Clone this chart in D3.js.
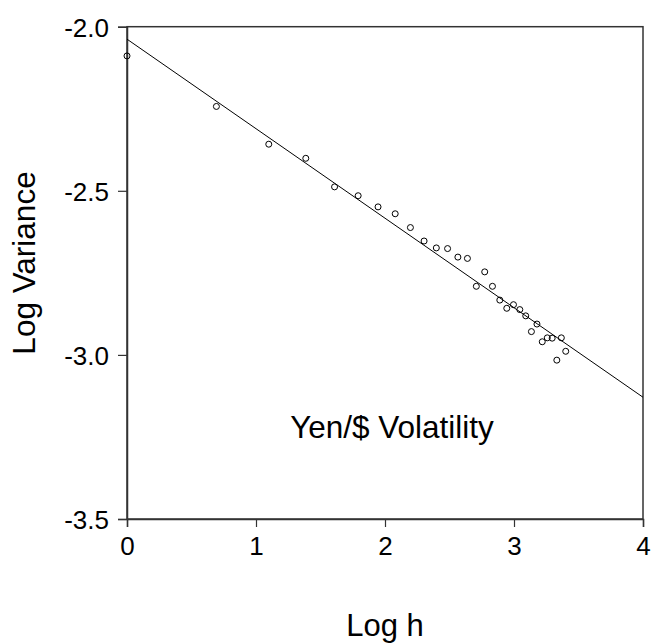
<!DOCTYPE html>
<html>
<head>
<meta charset="utf-8">
<script src="https://cdn.jsdelivr.net/npm/d3@7"></script>
<style>
  html, body { margin: 0; padding: 0; background: #fff; }
  svg { display: block; }
  text { font-family: "Liberation Sans", Arial, sans-serif; fill: #000; }
</style>
</head>
<body>
<svg id="chart" width="652" height="644"></svg>
<script>
const logH = [0, 0.693, 1.099, 1.386, 1.609, 1.792, 1.946, 2.079, 2.197, 2.303, 2.398, 2.485, 2.565, 2.639, 2.708, 2.773, 2.833, 2.890, 2.944, 2.996, 3.045, 3.091, 3.135, 3.178, 3.219, 3.258, 3.296, 3.332, 3.367, 3.401];
const logVar = [-2.089, -2.243, -2.358, -2.401, -2.488, -2.515, -2.549, -2.570, -2.612, -2.653, -2.674, -2.676, -2.702, -2.706, -2.791, -2.747, -2.791, -2.833, -2.858, -2.847, -2.862, -2.881, -2.929, -2.906, -2.960, -2.948, -2.949, -3.016, -2.948, -2.989];
const fitX = [0, 4];
const fitY = [-2.038, -3.129];
const xTicks = [0, 1, 2, 3, 4];
const yTicks = [-2.0, -2.5, -3.0, -3.5];
const xLabel = "Log h";
const yLabel = "Log Variance";
const annotation = "Yen/$ Volatility";

(function () {
const svg = d3.select("#chart");
const pLeft = 127, pRight = 643, pTop = 26.7, pBottom = 519;

const x = d3.scaleLinear().domain([0, 4]).range([pLeft, pRight]);
const y = d3.scaleLinear().domain([-2.0, -3.5]).range([pTop, pBottom]);

// frame
svg.append("rect")
  .attr("x", pLeft).attr("y", pTop)
  .attr("width", pRight - pLeft).attr("height", pBottom - pTop)
  .attr("fill", "none").attr("stroke", "#333").attr("stroke-width", 1.5);

// axes
const xAxis = svg.append("g")
  .attr("transform", `translate(0,${pBottom})`)
  .call(d3.axisBottom(x).tickValues(xTicks).tickFormat(d => String(d)).tickSize(8).tickPadding(10));
const yAxis = svg.append("g")
  .attr("transform", `translate(${pLeft},0)`)
  .call(d3.axisLeft(y).tickValues(yTicks).tickFormat(d => d.toFixed(1)).tickSize(9).tickPadding(9));

[xAxis, yAxis].forEach(g => {
  g.select(".domain").attr("stroke", "#333").attr("stroke-width", 1.5);
  g.selectAll(".tick line").attr("stroke", "#333").attr("stroke-width", 1.2);
  g.selectAll(".tick text")
    .attr("font-family", "Liberation Sans, Arial, sans-serif")
    .attr("font-size", 26).attr("fill", "#000");
});
yAxis.selectAll(".tick text").attr("dy", "0.36em");

// fit line
svg.append("line")
  .attr("x1", x(fitX[0])).attr("y1", y(fitY[0]))
  .attr("x2", x(fitX[1])).attr("y2", y(fitY[1]))
  .attr("stroke", "#000").attr("stroke-width", 1);

// points
svg.append("g").selectAll("circle")
  .data(logH.map((h, i) => [h, logVar[i]]))
  .join("circle")
  .attr("cx", d => x(d[0])).attr("cy", d => y(d[1]))
  .attr("r", 3)
  .attr("fill", "none").attr("stroke", "#000").attr("stroke-width", 1);

// annotation
svg.append("text")
  .attr("x", 392).attr("y", 438)
  .attr("text-anchor", "middle")
  .attr("font-size", 31.5)
  .text(annotation);

// axis titles
svg.append("text")
  .attr("x", 385).attr("y", 636)
  .attr("text-anchor", "middle")
  .attr("font-size", 31)
  .text(xLabel);

svg.append("text")
  .attr("transform", "translate(35,263) rotate(-90)")
  .attr("text-anchor", "middle")
  .attr("font-size", 31.5)
  .text(yLabel);
})();
</script>
</body>
</html>
